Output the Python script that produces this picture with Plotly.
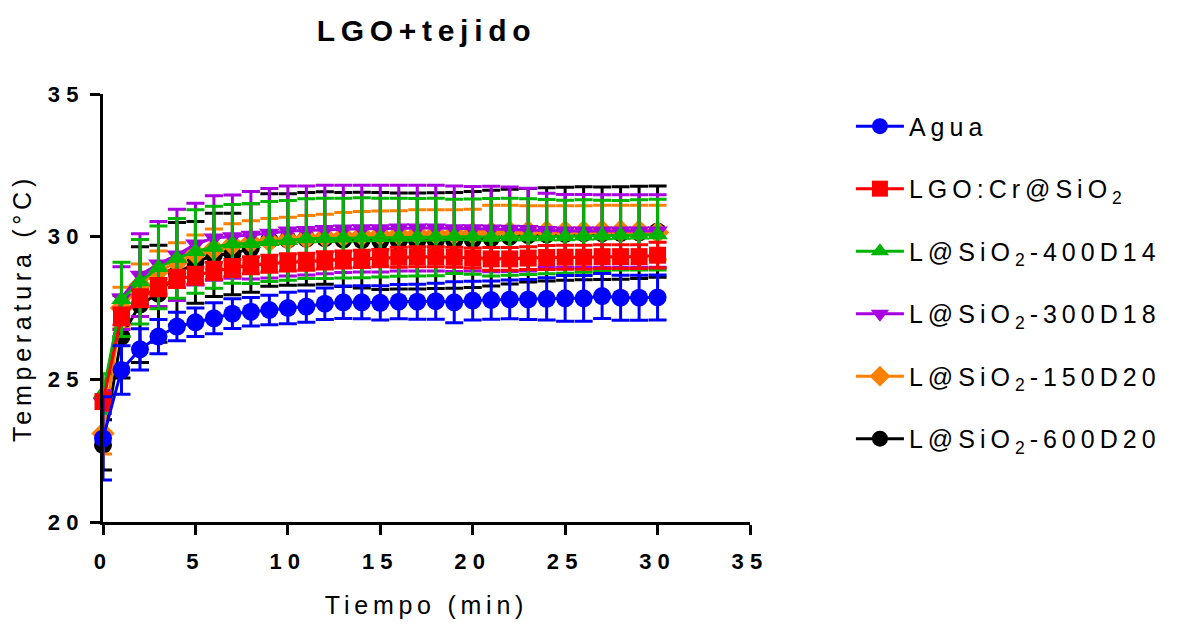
import plotly.graph_objects as go

# Tiempo (min)
tiempo = list(range(31))

agua = [22.93, 25.33, 26.05, 26.50, 26.85, 27.00, 27.14, 27.30, 27.37, 27.43, 27.50,
        27.55, 27.65, 27.70, 27.70, 27.68, 27.72, 27.72, 27.74, 27.70, 27.76, 27.78,
        27.80, 27.80, 27.82, 27.84, 27.84, 27.92, 27.86, 27.86, 27.87]
agua_err = [1.46, 0.85, 0.72, 0.60, 0.50, 0.50, 0.54, 0.52, 0.50, 0.52, 0.55, 0.55,
            0.55, 0.57, 0.58, 0.60, 0.60, 0.61, 0.63, 0.72, 0.68, 0.67, 0.68, 0.70,
            0.74, 0.80, 0.80, 0.79, 0.79, 0.79, 0.79]

lgo = [24.22, 27.20, 27.84, 28.23, 28.52, 28.63, 28.80, 28.90, 29.00, 29.05, 29.10,
       29.12, 29.17, 29.20, 29.22, 29.25, 29.28, 29.30, 29.30, 29.28, 29.25, 29.22,
       29.22, 29.25, 29.27, 29.28, 29.28, 29.30, 29.30, 29.30, 29.35]
lgo_err = [0.30, 0.30, 0.30, 0.30, 0.30, 0.30, 0.30, 0.30, 0.30, 0.30, 0.30, 0.30,
           0.30, 0.30, 0.30, 0.30, 0.35, 0.35, 0.35, 0.35, 0.35, 0.40, 0.40, 0.40,
           0.42, 0.42, 0.42, 0.42, 0.42, 0.42, 0.45]

s400d14 = [24.50, 27.80, 28.42, 28.92, 29.24, 29.48, 29.63, 29.75, 29.76, 29.83, 29.87,
           29.93, 29.94, 29.95, 29.96, 29.97, 29.98, 29.98, 29.99, 30.01, 30.00, 29.98,
           30.00, 30.00, 30.00, 30.00, 30.02, 30.03, 30.05, 30.06, 30.07]
s400d14_err = [0.70, 1.30, 1.48, 1.45, 1.40, 1.46, 1.44, 1.38, 1.40, 1.40, 1.40, 1.40,
               1.41, 1.40, 1.40, 1.38, 1.37, 1.36, 1.36, 1.30, 1.32, 1.36, 1.35, 1.33,
               1.30, 1.28, 1.27, 1.25, 1.22, 1.23, 1.24]

s300d18 = [24.20, 27.85, 28.65, 29.04, 29.36, 29.74, 29.95, 30.00, 30.05, 30.12, 30.20,
           30.22, 30.25, 30.27, 30.28, 30.28, 30.30, 30.30, 30.30, 30.28, 30.28, 30.27,
           30.26, 30.25, 30.22, 30.20, 30.20, 30.20, 30.20, 30.20, 30.20]
s300d18_err = [0.40, 1.10, 1.45, 1.49, 1.60, 1.43, 1.48, 1.46, 1.53, 1.57, 1.58, 1.56,
               1.55, 1.53, 1.52, 1.52, 1.50, 1.50, 1.50, 1.50, 1.48, 1.50, 1.48, 1.45,
               1.30, 1.28, 1.28, 1.27, 1.27, 1.27, 1.27]

s150d20 = [23.10, 27.50, 28.30, 28.80, 29.10, 29.40, 29.57, 29.72, 29.80, 29.85, 29.90,
           29.95, 30.00, 30.02, 30.05, 30.07, 30.08, 30.10, 30.10, 30.10, 30.12, 30.15,
           30.17, 30.18, 30.18, 30.18, 30.18, 30.20, 30.20, 30.20, 30.15]
s150d20_err = [0.72, 0.73, 0.74, 0.70, 0.69, 0.66, 0.70, 0.73, 0.76, 0.79, 0.78, 0.79,
               0.79, 0.83, 0.83, 0.83, 0.83, 0.84, 0.84, 0.84, 0.84, 0.95, 0.93, 0.90,
               0.90, 0.90, 0.90, 0.90, 0.90, 0.90, 0.95]

s600d20 = [22.70, 26.50, 27.62, 28.00, 28.70, 29.10, 29.36, 29.39, 29.60, 29.88, 29.90,
           29.93, 29.95, 29.90, 29.88, 29.85, 29.85, 29.85, 29.86, 29.87, 29.90, 29.95,
           30.00, 30.05, 30.08, 30.10, 30.12, 30.12, 30.13, 30.15, 30.18]
s600d20_err = [0.88, 1.45, 2.03, 1.70, 1.80, 1.43, 1.46, 1.43, 1.55, 1.62, 1.60, 1.62,
               1.62, 1.65, 1.68, 1.70, 1.68, 1.68, 1.68, 1.68, 1.68, 1.68, 1.66, 1.64,
               1.63, 1.63, 1.63, 1.62, 1.62, 1.62, 1.60]

# drawn bottom to top (black first, blue last); legendrank puts Agua first
SERIES = [
    ("L@SiO<sub>2</sub>-600D20", s600d20, s600d20_err, "#000000", "circle", 6),
    ("L@SiO<sub>2</sub>-150D20", s150d20, s150d20_err, "#FF8000", "diamond", 5),
    ("L@SiO<sub>2</sub>-300D18", s300d18, s300d18_err, "#A800E0", "triangle-down", 4),
    ("L@SiO<sub>2</sub>-400D14", s400d14, s400d14_err, "#00B400", "triangle-up", 3),
    ("LGO:Cr@SiO<sub>2</sub>", lgo, lgo_err, "#FF0000", "square", 2),
    ("Agua", agua, agua_err, "#0000FF", "circle", 1),
]

FONT = "Liberation Sans, Arial, sans-serif"

fig = go.Figure()

for name, values, errors, color, symbol, rank in SERIES:
    size = 17 if symbol == "square" else 18
    fig.add_trace(
        go.Scatter(
            x=tiempo,
            y=values,
            mode="lines+markers",
            name=name,
            legendgroup=f"g{rank}",
            legendrank=rank,
            line=dict(color=color, width=3),
            marker=dict(color=color, symbol=symbol, size=size),
            error_y=dict(type="data", array=errors, color=color, thickness=3, width=9),
            cliponaxis=False,
        )
    )

axis_common = dict(
    showline=True,
    linecolor="black",
    linewidth=3,
    ticks="outside",
    ticklen=10,
    tickwidth=3,
    tickcolor="black",
    showgrid=False,
    zeroline=False,
    automargin=False,
    tickfont=dict(family=FONT, size=22, color="black", weight="bold"),
    dtick=5,
)

fig.update_layout(
    width=1184,
    height=626,
    margin=dict(l=103, r=434, t=94, b=104),
    template="plotly_white",
    plot_bgcolor="white",
    paper_bgcolor="white",
    title=dict(
        text="LGO+tejido",
        xref="paper",
        x=0.5,
        xanchor="center",
        y=0.952,
        yanchor="middle",
        font=dict(family=FONT, size=30, color="black", weight="bold"),
    ),
    xaxis=dict(
        range=[0, 35],
        title=dict(text="Tiempo (min)", standoff=24,
                   font=dict(family=FONT, size=25, color="black")),
        ticklabelstandoff=8,
        **axis_common,
    ),
    yaxis=dict(
        range=[20, 35],
        title=dict(text="Temperatura (°C)", standoff=22,
                   font=dict(family=FONT, size=25, color="black")),
        ticklabelstandoff=1,
        **axis_common,
    ),
    legend=dict(
        x=1.156,
        y=0.978,
        xanchor="left",
        yanchor="top",
        traceorder="grouped",
        tracegroupgap=27,
        itemwidth=48,
        font=dict(family=FONT, size=25, color="black"),
        bgcolor="rgba(0,0,0,0)",
    ),
    showlegend=True,
)

# the reference uses widely spaced lettering; page margin removed so the
# figure sits at the window's top-left corner
SPACING_JS = """
document.body.style.margin = '0';
var gd = document.getElementById('{plot_id}');
function spaceLetters() {
  var rules = [['.gtitle', '0.19em'], ['.xtitle', '0.19em'], ['.ytitle', '0.19em'],
               ['.legendtext', '0.2em'], ['.xtick text', '0.28em'], ['.ytick text', '0.28em']];
  rules.forEach(function (r) {
    gd.querySelectorAll(r[0]).forEach(function (el) { el.style.letterSpacing = r[1]; });
  });
  gd.querySelectorAll('.legend [clip-path]').forEach(function (el) {
    el.removeAttribute('clip-path');
  });
}
spaceLetters();
gd.on('plotly_afterplot', spaceLetters);
"""

fig.write_html("out.html", post_script=SPACING_JS, config={"displayModeBar": False})
